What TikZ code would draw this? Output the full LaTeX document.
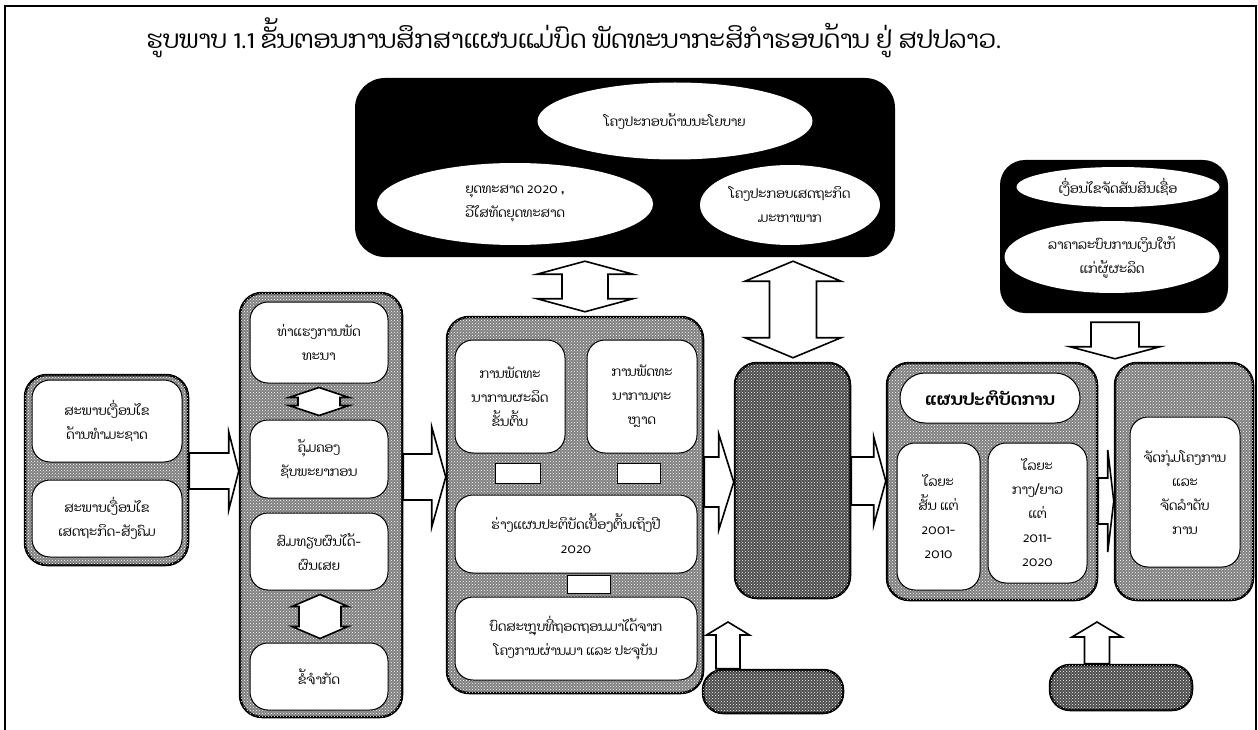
\documentclass[tikz,border=0pt]{standalone}
\usepackage{fontspec}
\setmainfont{Dhyana}[Script=Lao]
\usetikzlibrary{shapes.geometric,calc,patterns}

\newcommand\cardfont{\fontsize{13}{24}\selectfont}
\newcommand\titlefont{\fontsize{25}{28}\selectfont}

\tikzset{
  panel/.style={draw, line width=2.5pt, fill=black!50, rounded corners=22pt,
    postaction={pattern=crosshatch dots, pattern color=white}},
  darkpanel/.style={panel, fill=black!70},
  card/.style={draw, line width=1pt, fill=white, rounded corners=18pt, align=center, inner sep=0pt, font=\cardfont},
  oval/.style={ellipse, fill=white, align=center, inner sep=0pt, font=\cardfont},
  blackbox/.style={fill=black, rounded corners=30pt},
  blockarrow/.style={draw, line width=1.6pt, fill=white, line join=miter},
  whitebar/.style={draw, line width=1pt, fill=white}
}

% right block arrow: from, to, y, half shaft, half head, head length
\newcommand\rblock[6]{%
  \draw[blockarrow] let \p1=(#1.east), \p2=(#2.west), \p3=(0,#3) in
    (\x1,\y3+#4pt) -- (\x2-#6pt,\y3+#4pt) -- (\x2-#6pt,\y3+#5pt) -- (\x2,\y3)
    -- (\x2-#6pt,\y3-#5pt) -- (\x2-#6pt,\y3-#4pt) -- (\x1,\y3-#4pt) -- cycle;}
% double vertical block arrow: upper, lower, x, half shaft, half head, head length
\newcommand\dvblock[6]{%
  \draw[blockarrow] let \p1=(#1.south), \p2=(#2.north), \p3=(#3,0) in
    (\x3,\y1-4pt) -- (\x3+#5pt,\y1-4pt-#6pt) -- (\x3+#4pt,\y1-4pt-#6pt)
    -- (\x3+#4pt,\y2+4pt+#6pt) -- (\x3+#5pt,\y2+4pt+#6pt) -- (\x3,\y2+4pt)
    -- (\x3-#5pt,\y2+4pt+#6pt) -- (\x3-#4pt,\y2+4pt+#6pt)
    -- (\x3-#4pt,\y1-4pt-#6pt) -- (\x3-#5pt,\y1-4pt-#6pt) -- cycle;}
% down block arrow: upper, lower, x, half shaft, half head, head length
\newcommand\dblock[6]{%
  \draw[blockarrow] let \p1=(#1.south), \p2=(#2.north), \p3=(#3,0) in
    (\x3-#4pt,\y1-9pt) -- (\x3-#4pt,\y2+3pt+#6pt) -- (\x3-#5pt,\y2+3pt+#6pt) -- (\x3,\y2+3pt)
    -- (\x3+#5pt,\y2+3pt+#6pt) -- (\x3+#4pt,\y2+3pt+#6pt) -- (\x3+#4pt,\y1-9pt) -- cycle;}
% up block arrow: from node, tip coordinate, half shaft, half head, head length
\newcommand\ublock[5]{%
  \draw[blockarrow] let \p1=(#1.north), \p2=(#2) in
    (\x2-#3pt,\y1) -- (\x2-#3pt,\y2-#5pt) -- (\x2-#4pt,\y2-#5pt) -- (\x2,\y2)
    -- (\x2+#4pt,\y2-#5pt) -- (\x2+#3pt,\y2-#5pt) -- (\x2+#3pt,\y1) -- cycle;}

\begin{document}
\begin{tikzpicture}[x=1pt, y=-1pt]
\useasboundingbox (0,0) rectangle (1258,730);
\draw[line width=2pt] (5,730) -- (5,6) -- (1256,6) -- (1256,730);

\node[font=\titlefont] (title) at (574,38) {ຮູບພາບ 1.1 ຂັ້ນຕອນການສຶກສາແຜນແມ່ບົດ ພັດທະນາກະສິກຳຮອບດ້ານ ຢູ່ ສປປລາວ.};

% policy framework
\node[blackbox, minimum width=540, minimum height=179] (policy) at (625,167.5) {};
\node[oval, minimum width=275, minimum height=77] (polframe) at (675,121) {ໂຄງປະກອບດ້ານນະໂຍບາຍ};
\node[oval, minimum width=276, minimum height=82] (strategy) at (515,204) {ຍຸດທະສາດ 2020 ,\\ວິໄສທັດຍຸດທະສາດ};
\node[oval, minimum width=180, minimum height=80] (macro) at (790,205) {ໂຄງປະກອບເສດຖະກິດ\\ມະຫາພາກ};

% support conditions
\node[blackbox, rounded corners=25pt, minimum width=228, minimum height=153] (support) at (1114,236.5) {};
\node[oval, minimum width=203, minimum height=40] (credit) at (1118,187) {ເງື່ອນໄຂຈັດສັນສິນເຊື່ອ};
\node[oval, minimum width=215, minimum height=72] (price) at (1112,257) {ລາຄາລະບົບການເງິນໃຫ້\\ແກ່ຜູ້ຜະລິດ};

% column 0
\node[panel, minimum width=163, minimum height=190] (col0) at (106.5,470) {};
\node[card, minimum width=150, minimum height=82] (natural) at (107,421) {ສະພາບເງື່ອນໄຂ\\ດ້ານທຳມະຊາດ};
\node[card, minimum width=150, minimum height=77] (social) at (107,518.5) {ສະພາບເງື່ອນໄຂ\\ເສດຖະກິດ-ສັງຄົມ};

% column 1
\node[panel, minimum width=162, minimum height=424] (col1) at (321,505) {};
\node[card, minimum width=138, minimum height=81] (potential) at (319,342.5) {ທ່າແຮງການພັດ\\ທະນາ};
\node[card, minimum width=138, minimum height=78] (resource) at (319,459) {ຄຸ້ມຄອງ\\ຊັບພະຍາກອນ};
\node[card, minimum width=138, minimum height=77] (gainloss) at (319,551.5) {ສົມທຽບຜົນໄດ້-\\ຜົນເສຍ};
\node[card, minimum width=138, minimum height=67] (limits) at (319,676.5) {ຂໍ້ຈຳກັດ};
\dvblock{potential}{resource}{319}{21}{30}{10}
\dvblock{gainloss}{limits}{320}{21}{28}{12}

% column 2
\node[panel, minimum width=256, minimum height=376] (col2) at (575,505) {};
\node[card, minimum width=110, minimum height=113] (prod) at (510,396.5) {ການພັດທະ\\ນາການຜະລິດ\\ຂັ້ນຕົ້ນ};
\node[card, minimum width=110, minimum height=113] (market) at (642,396.5) {ການພັດທະ\\ນາການຕະ\\ຫຼາດ};
\node[card, minimum width=242, minimum height=78] (draft) at (576,534) {ຮ່າງແຜນປະຕິບັດເບື້ອງຕົ້ນເຖິງປີ\\2020};
\node[card, minimum width=242, minimum height=83] (lessons) at (576,638.5) {ບົດສະຫຼຸບທີ່ຖອດຖອນມາໄດ້ຈາກ\\ໂຄງການຜ່ານມາ ແລະ ປະຈຸບັນ};
\draw[whitebar] (495,463) rectangle (540,483);
\draw[whitebar] (617,463) rectangle (660,483);
\draw[whitebar] (567,575) rectangle (610,593);

% column 3
\node[darkpanel, minimum width=115, minimum height=235] (col3) at (792.5,480.5) {};
\node[darkpanel, rounded corners=20pt, minimum width=140, minimum height=43] (pillA) at (773,691.5) {};

% column 4
\node[panel, minimum width=210, minimum height=237] (col4) at (992,481.5) {};
\node[card, rounded corners=25pt, minimum width=180, minimum height=50, font=\fontsize{17}{20}\selectfont\bfseries] (plan) at (990,398) {ແຜນປະຕິບັດການ};
\node[card, minimum width=83, minimum height=147] (short) at (938.5,516.5) {ໄລຍະ\\ສັ້ນ ແຕ່\\2001-\\2010};
\node[card, minimum width=99, minimum height=140] (long) at (1037.5,513) {ໄລຍະ\\ກາງ/ຍາວ\\ແຕ່\\2011-\\2020};

% column 5
\node[panel, minimum width=138, minimum height=237] (col5) at (1184,481.5) {};
\node[card, minimum width=110, minimum height=150] (group) at (1185,492) {ຈັດກຸ່ມໂຄງການ\\ແລະ\\ຈັດລຳດັບ\\ການ};
\node[darkpanel, rounded corners=20pt, minimum width=142, minimum height=45] (pillB) at (1121,687.5) {};

% flow arrows
\rblock{col0}{col1}{471}{18}{39}{10}
\rblock{col1}{col2}{477}{23}{50}{14}
\rblock{col2}{col3}{482}{25}{48}{15}
\rblock{col3}{col4}{481}{24}{44}{12}
\rblock{col4}{col5}{501}{23}{51}{6}
\dvblock{policy}{col2}{585}{23}{48}{13}
\dvblock{policy}{col3}{793}{23.5}{48}{20}
\dblock{support}{col5}{1115}{24}{45}{12}
\coordinate (tipA) at (728,622);
\coordinate (tipB) at (1097,622);
\ublock{pillA}{tipA}{12}{21.5}{13}
\ublock{pillB}{tipB}{12.5}{25}{15}
\end{tikzpicture}
\end{document}
